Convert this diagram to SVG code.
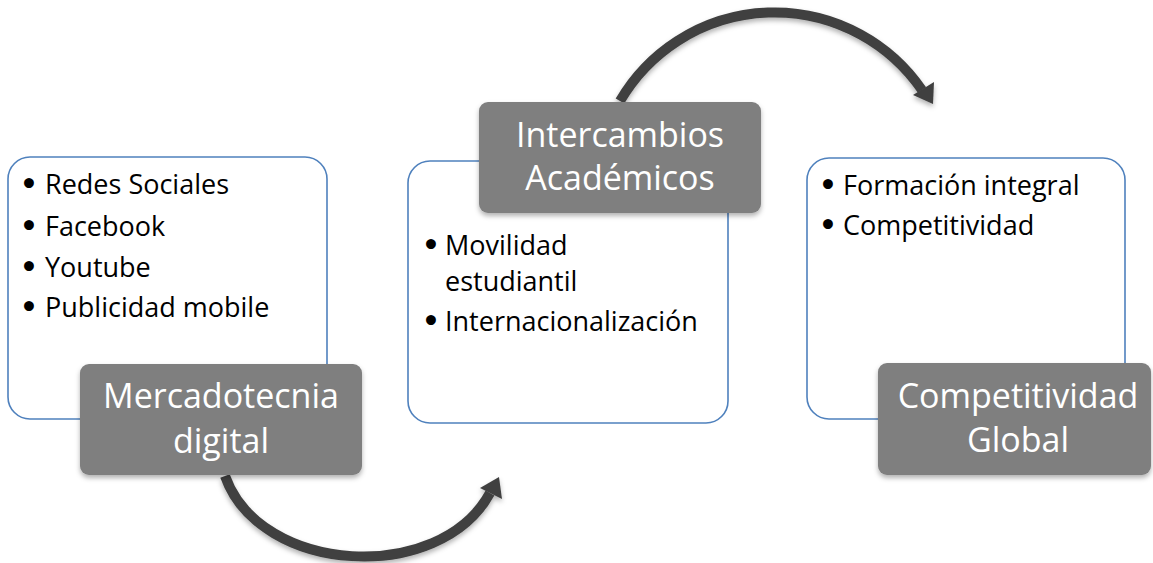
<svg xmlns="http://www.w3.org/2000/svg" width="1153" height="563" viewBox="0 0 1153 563">
<style>
.panel{fill:#ffffff;stroke:#4f81bd;stroke-width:1.6}
.label{fill:#7f7f7f}
.ltxt{font-family:"Open Sans","Liberation Sans",sans-serif;font-size:34px;fill:#ffffff;text-anchor:middle}
.btxt{font-family:"Open Sans","Liberation Sans",sans-serif;font-size:27px;fill:#000000}
.dot{font-family:"DejaVu Sans",sans-serif;font-weight:bold;font-size:28px}
.shaft{fill:none;stroke:#404040;stroke-width:10}
.head{fill:#404040}
</style>
<defs>
<filter id="sh" x="-10%" y="-10%" width="120%" height="130%">
<feDropShadow dx="0" dy="3" stdDeviation="2.5" flood-color="#000000" flood-opacity="0.3"/>
</filter>
</defs>
<rect width="1153" height="563" fill="#ffffff"/>
<g id="connectors" filter="url(#sh)">
<path class="shaft" d="M 225 476 C 260 575, 440 585, 490 493"/>
<polygon class="head" points="499,477 480,488 502,499"/>
<path class="shaft" d="M 620 101 A 179 179 0 0 1 922 90"/>
<polygon class="head" points="913,95 934,82 933,104"/>
</g>
<g id="node-mercadotecnia">
<rect class="panel" x="8" y="157" width="319" height="262" rx="22"/>
<text class="btxt" y="194"><tspan class="dot" x="20">•</tspan><tspan x="45">Redes Sociales</tspan></text>
<text class="btxt" y="236"><tspan class="dot" x="20">•</tspan><tspan x="45">Facebook</tspan></text>
<text class="btxt" y="277"><tspan class="dot" x="20">•</tspan><tspan x="45">Youtube</tspan></text>
<text class="btxt" y="317"><tspan class="dot" x="20">•</tspan><tspan x="45">Publicidad mobile</tspan></text>
<rect class="label" x="80" y="364" width="282" height="111" rx="9" filter="url(#sh)"/>
<text class="ltxt" x="221" y="408">Mercadotecnia</text>
<text class="ltxt" x="221" y="453">digital</text>
</g>
<g id="node-intercambios">
<rect class="panel" x="408" y="161" width="320" height="262" rx="22"/>
<text class="btxt" y="255"><tspan class="dot" x="422">•</tspan><tspan x="445">Movilidad</tspan></text>
<text class="btxt" x="445" y="291">estudiantil</text>
<text class="btxt" y="331"><tspan class="dot" x="422">•</tspan><tspan x="445">Internacionalización</tspan></text>
<rect class="label" x="479" y="102" width="282" height="111" rx="9" filter="url(#sh)"/>
<text class="ltxt" x="620" y="147">Intercambios</text>
<text class="ltxt" x="620" y="190">Académicos</text>
</g>
<g id="node-competitividad">
<rect class="panel" x="807" y="158" width="318" height="261" rx="22"/>
<text class="btxt" y="195"><tspan class="dot" x="819">•</tspan><tspan x="843">Formación integral</tspan></text>
<text class="btxt" y="235"><tspan class="dot" x="819">•</tspan><tspan x="843">Competitividad</tspan></text>
<rect class="label" x="878" y="363" width="273" height="112" rx="9" filter="url(#sh)"/>
<text class="ltxt" x="1018" y="408">Competitividad</text>
<text class="ltxt" x="1018" y="452">Global</text>
</g>
</svg>
